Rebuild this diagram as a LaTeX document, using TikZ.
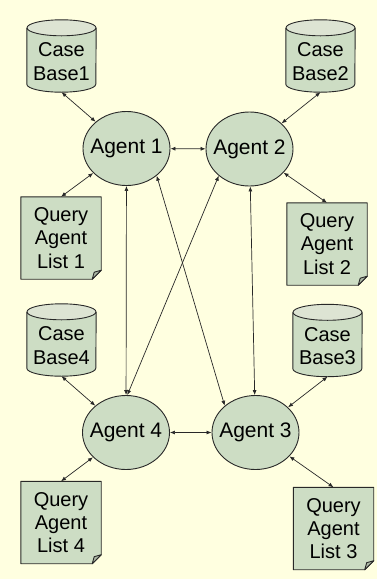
\documentclass[tikz,border=0pt]{standalone}
\usepackage{fontspec}
\setmainfont{Liberation Sans}
\usetikzlibrary{shapes.geometric,arrows.meta,calc}
\definecolor{bgyellow}{RGB}{255,255,224}
\definecolor{shapefill}{RGB}{205,221,196}
\definecolor{topfill}{RGB}{221,228,211}
\definecolor{foldfill}{RGB}{170,182,163}
\definecolor{edgecol}{RGB}{40,40,40}
\pgfdeclarelayer{bg}
\pgfdeclarelayer{shapes}
\pgfsetlayers{bg,shapes,main}
\newcommand\cylshape[1]{%
  \fill[shapefill] ($(#1.north west)+(0,8)$) -- ($(#1.south west)+(0,-8)$)
    arc[start angle=180,end angle=0,x radius=34.5,y radius=8]
    -- ($(#1.north east)+(0,8)$) -- cycle;
  \draw[shapeline] ($(#1.north west)+(0,8)$) -- ($(#1.south west)+(0,-8)$)
    arc[start angle=180,end angle=0,x radius=34.5,y radius=8]
    -- ($(#1.north east)+(0,8)$);
  \filldraw[shapeline,fill=topfill] ($(#1.north)+(0,8)$) ellipse[x radius=34.5,y radius=8];}
\newcommand\qalshape[1]{%
  \filldraw[shapeline,fill=shapefill] (#1.north west) -- (#1.north east)
    -- ($(#1.south east)+(0,-9)$) -- ($(#1.south east)+(-9,0)$)
    -- (#1.south west) -- cycle;
  \filldraw[shapeline,fill=foldfill] ($(#1.south east)+(0,-9)$)
    -- ($(#1.south east)+(-9,0)$) -- ($(#1.south east)+(-7,-7)$) -- cycle;}
\newcommand\agtext[1]{\makebox[0pt][c]{#1}}
\begin{document}
\begin{tikzpicture}[x=1pt,y=-1pt,
  shapeline/.style={draw=edgecol,line width=0.9pt,line join=round},
  agent/.style={ellipse,draw=edgecol,line width=0.9pt,fill=shapefill,
    minimum width=87pt,minimum height=74pt,inner sep=0pt,
    font=\fontsize{21}{24}\selectfont},
  cylbox/.style={rectangle,minimum width=69pt,minimum height=72pt,inner sep=0pt},
  lbl/.style={align=center,inner sep=0pt,font=\fontsize{20}{23.3}\selectfont},
  qal/.style={rectangle,minimum width=80pt,minimum height=82pt,inner sep=0pt,
    align=center,font=\fontsize{20}{23.3}\selectfont},
  conn/.style={draw=edgecol,line width=0.7pt,
    {Latex[length=5pt,width=4pt]}-{Latex[length=5pt,width=4pt]}}]
\useasboundingbox (0,0) rectangle (377,579);
\begin{pgfonlayer}{bg}
  \fill[bgyellow] (0,0) rectangle (377,579);
\end{pgfonlayer}

% agents
\node[agent] (a1) at (126.5,148.5) {\agtext{Agent 1}};
\node[agent] (a2) at (249.5,149) {\agtext{Agent 2}};
\node[agent] (a4) at (126,432.5) {\agtext{Agent 4}};
\node[agent] (a3) at (255.5,432.5) {\agtext{Agent 3}};

% case bases
\node[cylbox] (cb1) at (61.5,56) {};
\node[cylbox] (cb2) at (320.5,56) {};
\node[cylbox] (cb4) at (61.5,340) {};
\node[cylbox] (cb3) at (327.5,340.5) {};
\node[lbl] (cb1t) at ($(cb1.center)+(0,5.5)$) {Case\\Base1};
\node[lbl] (cb2t) at ($(cb2.center)+(0,5.5)$) {Case\\Base2};
\node[lbl] (cb4t) at ($(cb4.center)+(0,5.5)$) {Case\\Base4};
\node[lbl] (cb3t) at ($(cb3.center)+(0,5.5)$) {Case\\Base3};

% query agent lists
\node[qal] (q1) at (61,238) {Query\\Agent\\List 1};
\node[qal] (q2) at (327,244) {Query\\Agent\\List 2};
\node[qal] (q4) at (61,522.5) {Query\\Agent\\List 4};
\node[qal] (q3) at (333.5,528.5) {Query\\Agent\\List 3};

\begin{pgfonlayer}{shapes}
  \cylshape{cb1}\cylshape{cb2}\cylshape{cb3}\cylshape{cb4}
  \qalshape{q1}\qalshape{q2}\qalshape{q3}\qalshape{q4}
\end{pgfonlayer}

% connectors
\draw[conn] (cb1.south) -- (a1);
\draw[conn] (q1.north) -- (a1);
\draw[conn] (cb2.south) -- (a2);
\draw[conn] (q2.north) -- (a2);
\draw[conn] (cb4.south) -- (a4);
\draw[conn] (q4.north) -- (a4);
\draw[conn] (cb3.south) -- (a3);
\draw[conn] (q3.north) -- (a3);
\draw[conn] (a1) -- (a2);
\draw[conn] (a4) -- (a3);
\draw[conn] (a1) -- (a4);
\draw[conn] (a2) -- (a3);
\draw[conn] (a1.-42) -- (a3.139);
\draw[conn] (a2.-139) -- (a4.88);
\end{tikzpicture}
\end{document}
